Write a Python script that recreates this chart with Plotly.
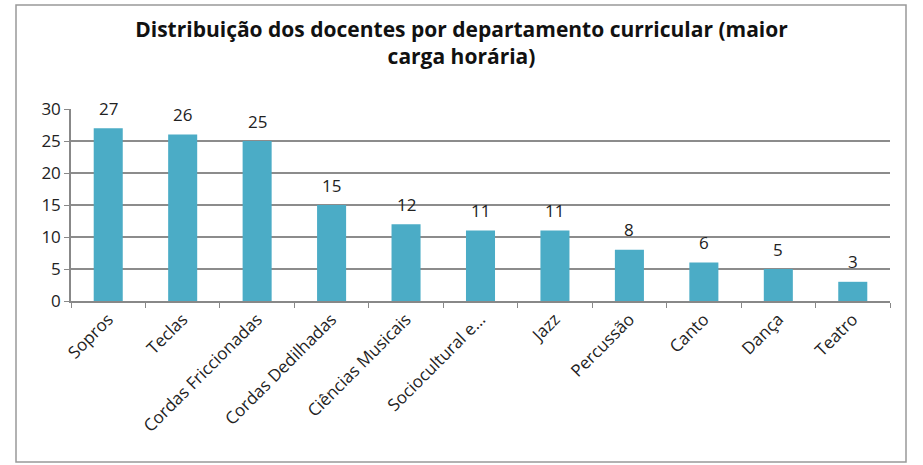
import plotly.graph_objects as go

categories = ["Sopros", "Teclas", "Cordas Friccionadas", "Cordas Dedilhadas",
              "Ciências Musicais", "Sociocultural e...", "Jazz", "Percussão",
              "Canto", "Dança", "Teatro"]
values = [27, 26, 25, 15, 12, 11, 11, 8, 6, 5, 3]
y_ticks = [0, 5, 10, 15, 20, 25, 30]

W, H = 923, 465
L, R, T, B = 71, 33, 109, 164
pw, ph = W - L - R, H - T - B

def px_x(px):
    return (px - L) / pw

def px_y(py):
    return (H - B - py) / ph

font_fam = "Open Sans, Noto Sans, sans-serif"

fig = go.Figure(go.Bar(
    x=categories, y=values,
    marker=dict(color="#4BACC6", line=dict(width=0)),
    hoverinfo="x+y",
))

annotations = [
    dict(x=c, y=v, xref="x", yref="y", text=str(v), showarrow=False,
         yanchor="middle", yshift=20,
         font=dict(size=17, color="#222222", family=font_fam))
    for c, v in zip(categories, values)
]

fig.update_layout(
    width=W, height=H,
    margin=dict(l=L, r=R, t=T, b=B, autoexpand=False),
    paper_bgcolor="white", plot_bgcolor="white",
    bargap=0.61,
    showlegend=False,
    title=dict(
        text="<b>Distribuição dos docentes por departamento curricular (maior<br>carga horária)</b>",
        x=0.5, xanchor="center", y=1 - 37 / H, yanchor="middle",
        font=dict(size=21, color="#111111", family=font_fam),
    ),
    xaxis=dict(
        type="category", tickangle=-45, ticks="outside", tickson="boundaries",
        ticklen=5, tickcolor="#888888", showline=True, linecolor="#888888",
        linewidth=1.5, showgrid=False, automargin=False,
        tickfont=dict(size=17, color="#222222", family=font_fam),
    ),
    yaxis=dict(
        range=[0, 30], tickvals=y_ticks, ticks="outside", ticklen=5,
        tickcolor="#888888", showline=True, linecolor="#888888", linewidth=1.5,
        showgrid=True, gridcolor="#8c8c8c", gridwidth=1.5, zeroline=False,
        automargin=False,
        tickfont=dict(size=17, color="#222222", family=font_fam),
    ),
    annotations=annotations,
    shapes=[dict(
        type="rect", xref="paper", yref="paper",
        x0=px_x(16), x1=px_x(906), y0=px_y(462), y1=px_y(5),
        line=dict(color="#999999", width=1.5), fillcolor="rgba(0,0,0,0)",
        layer="below",
    )],
)

fig.write_html("out.html", config={"displayModeBar": False},
               post_script="document.body.style.margin='0';")
